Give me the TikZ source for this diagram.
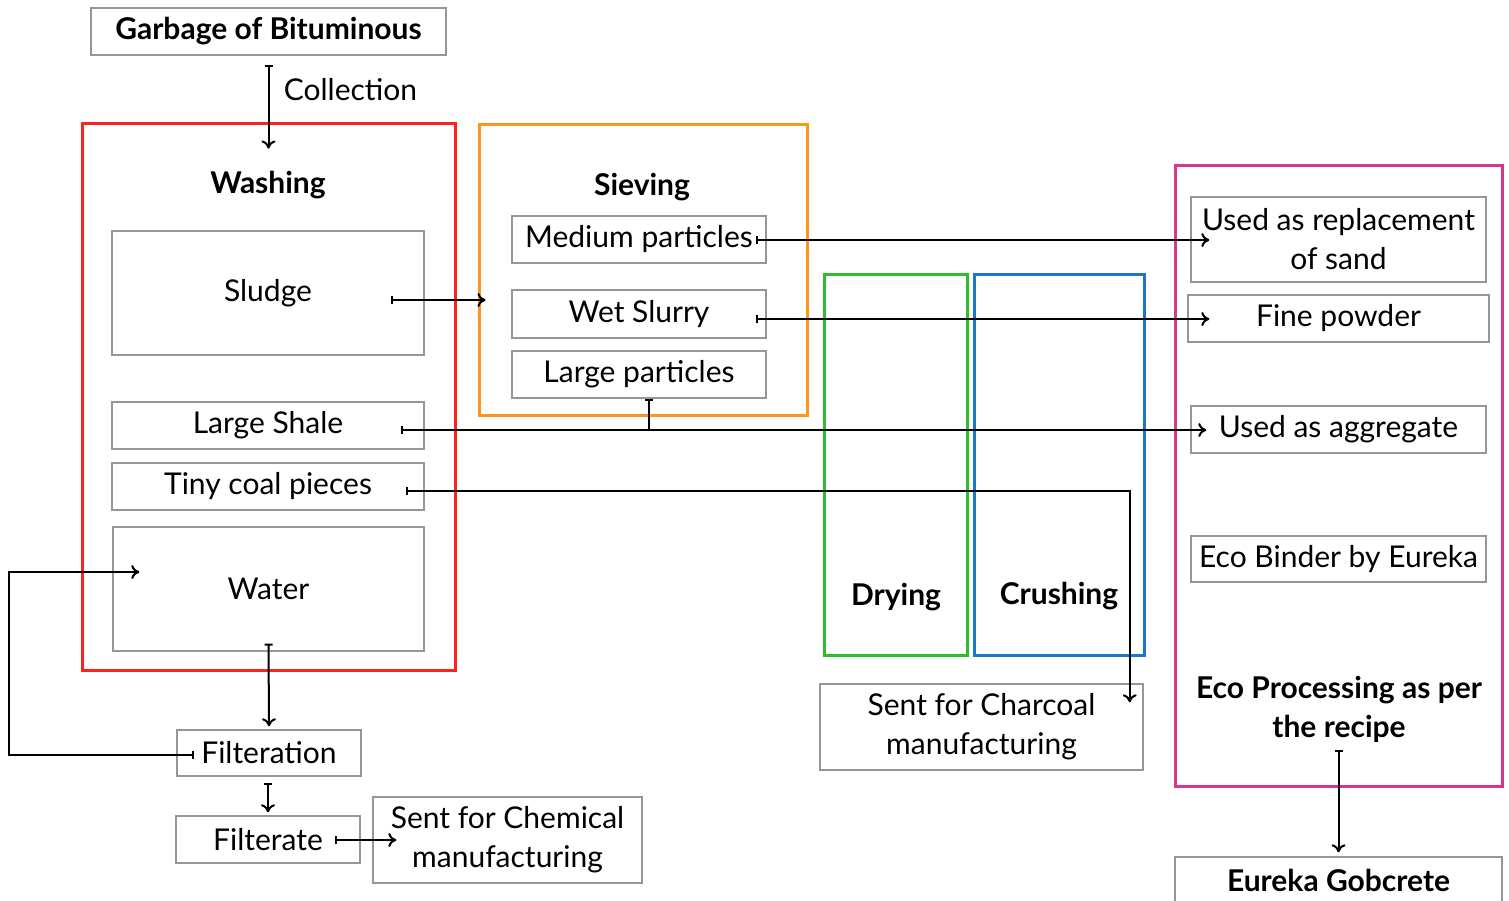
\documentclass[tikz,border=0pt]{standalone}
\usepackage{fontspec}
\setmainfont{Lato}
\usetikzlibrary{positioning,calc,arrows.meta}

\definecolor{washred}{RGB}{250,35,30}
\definecolor{sieveorange}{RGB}{255,150,25}
\definecolor{drygreen}{RGB}{45,190,45}
\definecolor{crushblue}{RGB}{25,120,200}
\definecolor{ecopink}{RGB}{215,55,140}
\definecolor{boxgray}{RGB}{150,150,150}

\tikzset{
  box/.style={draw=boxgray, line width=1.4pt, inner sep=0pt, align=center,
    font=\fontsize{30}{39}\selectfont},
  frame/.style={line width=3pt, inner sep=0pt},
  title/.style={font=\fontsize{30}{39}\selectfont\bfseries, align=center},
  flow/.style={{Bar[width=8pt]}-{To[length=8pt,width=14pt]}, line width=2pt},
  tick/.style={{Bar[width=8pt]}-, line width=2pt}
}

\begin{document}
\begin{tikzpicture}[x=1pt,y=-1pt]
  \useasboundingbox (0,0) rectangle (1509,900);

  % colour frames
  \node[frame, draw=washred, minimum width=373pt, minimum height=547pt] (washing) at (268.5,396.5) {};
  \node[frame, draw=sieveorange, minimum width=328pt, minimum height=291pt] (sieving) at (643,269.5) {};
  \node[frame, draw=drygreen, minimum width=143pt, minimum height=381pt] (drying) at (895.5,464.5) {};
  \node[frame, draw=crushblue, minimum width=170pt, minimum height=381pt] (crushing) at (1059,464.5) {};
  \node[frame, draw=ecopink, minimum width=327pt, minimum height=621pt] (eco) at (1338.5,475.5) {};

  % titles
  \node[title] (washtitle) at (268,185) {Washing};
  \node[title] (sievetitle) at (642,187) {Sieving};
  \node[title] (drytitle) at (896,597) {Drying};
  \node[title] (crushtitle) at (1059,596) {Crushing};
  \node[title] (ecotitle) at (1339,709) {Eco Processing as per\\the recipe};

  % boxes
  \node[box, font=\fontsize{30}{39}\selectfont\bfseries, minimum width=355pt, minimum height=47pt] (garbage) at (268.5,31.5) {Garbage of Bituminous};
  \node[box, minimum width=312pt, minimum height=124pt] (sludge) at (268,293) {Sludge};
  \node[box, minimum width=312pt, minimum height=47pt] (shale) at (268,425.5) {Large Shale};
  \node[box, minimum width=312pt, minimum height=47pt] (tiny) at (268,486.5) {Tiny coal pieces};
  \node[box, minimum width=311pt, minimum height=124pt] (water) at (268.5,589) {Water};
  \node[box, minimum width=184pt, minimum height=46pt] (filter) at (269,753) {Filteration};
  \node[box, minimum width=184pt, minimum height=47pt] (filtrate) at (268,839.5) {Filterate};
  \node[box, minimum width=269pt, minimum height=86pt] (chem) at (507.5,840) {Sent for Chemical\\manufacturing};

  \node[box, minimum width=254pt, minimum height=47pt] (medium) at (639,239.5) {Medium particles};
  \node[box, minimum width=254pt, minimum height=48pt] (slurry) at (639,314) {Wet Slurry};
  \node[box, minimum width=254pt, minimum height=47pt] (largep) at (639,374.5) {Large particles};

  \node[box, minimum width=323pt, minimum height=86pt] (charcoal) at (981.5,727) {Sent for Charcoal\\manufacturing};

  \node[box, minimum width=295pt, minimum height=85pt] (sand) at (1338.5,239.5) {Used as replacement\\of sand};
  \node[box, minimum width=301pt, minimum height=47pt] (fine) at (1338.5,318.5) {Fine powder};
  \node[box, minimum width=295pt, minimum height=47pt] (aggr) at (1338.5,429.5) {Used as aggregate};
  \node[box, minimum width=295pt, minimum height=46pt] (binder) at (1338.5,559) {Eco Binder by Eureka};
  \node[box, font=\fontsize{30}{39}\selectfont\bfseries, minimum width=327pt, minimum height=46pt] (gob) at (1338.5,880) {Eureka Gobcrete};

  % connectors
  \draw[flow] ($(garbage.south)+(0,9)$) -- node[pos=0.3, right=11pt, font=\fontsize{30}{39}\selectfont] {Collection} ($(washing.north)+(0,27)$);
  \draw[flow] ($(sludge.east)+(-34,7)$) -- ($(sludge.east -| sieving.west)+(8,7)$);
  \coordinate (shaleend) at ($(shale.east -| aggr.west)+(16,4.5)$);
  \draw[flow] ($(shale.east)+(-24,4.5)$) -- (shaleend);
  \coordinate (lpfoot) at ($(largep.south)+(10,0)$);
  \draw[tick] (lpfoot) -- (lpfoot |- shaleend);
  \draw[flow] ($(tiny.east)+(-19,4.5)$) -| ($(charcoal.north east)+(-14,19)$);
  \draw[flow] ($(water.south)+(0,-8)$) -- ($(filter.north)+(0,-3)$);
  \draw[flow] ($(filter.west)+(18,2)$) -- ++(-185,0) |- ($(water.west)+(27,-17)$);
  \draw[flow] ($(filter.south)+(-1,6)$) -- ($(filtrate.north)+(0,-3)$);
  \draw[flow] ($(filtrate.east)+(-26,0.5)$) -- ($(chem.west)+(24,0)$);
  \draw[flow] ($(medium.east)+(-11,0.5)$) -- ($(medium.east -| sand.west)+(19,0.5)$);
  \draw[flow] ($(slurry.east)+(-11,5)$) -- ($(slurry.east -| fine.west)+(22,5)$);
  \draw[flow] ($(eco.south)+(0,-38)$) -- ($(gob.north)+(0,-4)$);
\end{tikzpicture}
\end{document}
